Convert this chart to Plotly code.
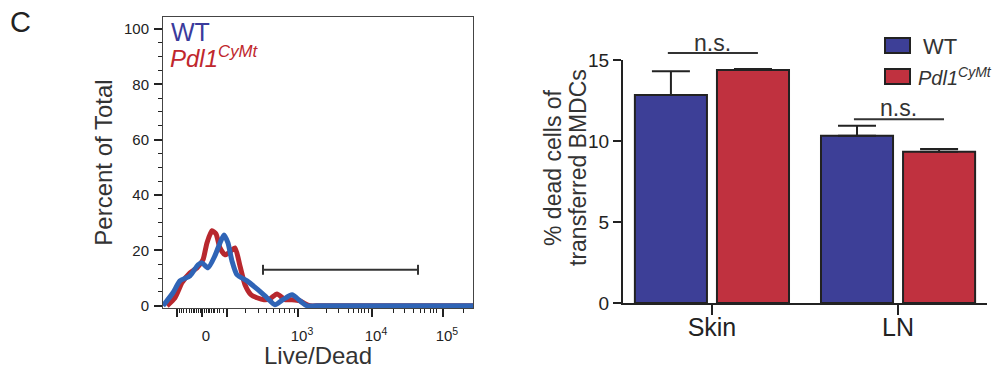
import plotly.graph_objects as go

# ---------------- Data ----------------
# Left panel: histogram overlay (x in display decades of the biexponential scale)
red_x = [1.230, 1.338, 1.432, 1.541, 1.635, 1.716, 1.770, 1.838, 1.892, 1.946, 2.014,
         2.081, 2.149, 2.216, 2.284, 2.365, 2.446, 2.541, 2.622, 2.716, 2.824, 2.919,
         3.027, 3.095, 3.162, 3.300, 5.365]
red_y = [0, 2.9, 8.3, 11.9, 13.7, 16.6, 22.7, 27.1, 26.0, 20.9, 18.4,
         19.5, 20.9, 14.4, 7.6, 4.0, 2.9, 2.2, 2.5, 4.3, 2.2, 2.2,
         1.8, 0.7, 0, 0, 0]
blue_x = [1.176, 1.311, 1.405, 1.541, 1.649, 1.703, 1.784, 1.878, 1.946, 2.000, 2.054,
          2.108, 2.176, 2.311, 2.446, 2.581, 2.689, 2.797, 2.919, 3.027, 3.122, 3.250, 5.365]
blue_y = [0, 4.7, 9.0, 10.8, 14.8, 15.5, 13.7, 18.1, 22.7, 25.6, 22.7,
          16.2, 11.2, 9.0, 6.1, 2.9, 0.4, 2.2, 4.0, 1.8, 0, 0, 0]
gate_x = [2.527, 4.622]
gate_y = 13.0

x_label_vals = [1.703, 3.0, 4.0, 4.959]
x_label_text = ["0", "10<sup>3</sup>", "10<sup>4</sup>", "10<sup>5</sup>"]
x_long_unlabeled = [1.365, 2.041]
x_minor_vals = [1.396, 1.428, 1.459, 1.496, 1.531, 1.564, 1.585, 1.608, 1.631, 1.653,
                1.676, 1.689, 1.716, 1.730, 1.743, 1.766, 1.788, 1.811, 1.834, 1.855,
                1.878, 1.909, 1.946, 1.991,
                2.284, 2.464, 2.577, 2.666, 2.747, 2.824, 2.892, 2.959,
                3.388, 3.554, 3.680, 3.747, 3.815, 3.861, 3.905, 3.950,
                4.288, 4.446, 4.558, 4.649, 4.716, 4.784, 4.828, 4.874, 5.230]

# Right panel: bar chart
categories = ["Skin", "LN"]
wt_vals = [12.84, 10.33]
wt_err = [1.46, 0.61]
mut_vals = [14.38, 9.34]
mut_err = [0.07, 0.17]
y2_title_lines = ["% dead cells of", "transferred BMDCs"]

# ---------------- Styles ----------------
FONT = "Arial, Liberation Sans, Helvetica, sans-serif"
RED_LINE = "#b8282e"
BLUE_LINE = "#2f64b6"
BAR_BLUE = "#3d3f97"
BAR_RED = "#c0313f"
DARK = "#222222"

W, H = 1000, 369
def px(x):
    return x / W
def py(y):
    return 1 - y / H

fig = go.Figure()

# Left histogram curves
fig.add_trace(go.Scatter(x=red_x, y=red_y, mode="lines",
                         line=dict(color=RED_LINE, width=5, shape="spline", smoothing=0.6),
                         xaxis="x", yaxis="y", showlegend=False, hoverinfo="skip"))
fig.add_trace(go.Scatter(x=blue_x, y=blue_y, mode="lines",
                         line=dict(color=BLUE_LINE, width=5, shape="spline", smoothing=0.6),
                         xaxis="x", yaxis="y", showlegend=False, hoverinfo="skip"))
# Gate
fig.add_trace(go.Scatter(x=gate_x, y=[gate_y, gate_y], mode="lines",
                         line=dict(color="#333333", width=2), xaxis="x", yaxis="y",
                         showlegend=False, hoverinfo="skip"))
for gx in gate_x:
    fig.add_trace(go.Scatter(x=[gx, gx], y=[gate_y - 1.8, gate_y + 1.8], mode="lines",
                             line=dict(color="#333333", width=2), xaxis="x", yaxis="y",
                             showlegend=False, hoverinfo="skip"))

# Right bars
fig.add_trace(go.Bar(x=categories, y=wt_vals, name="WT",
                     marker=dict(color=BAR_BLUE, line=dict(color=DARK, width=2)),
                     error_y=dict(type="data", symmetric=False, array=wt_err, arrayminus=[0, 0],
                                  color=DARK, thickness=2, width=19),
                     xaxis="x2", yaxis="y2", showlegend=False))
fig.add_trace(go.Bar(x=categories, y=mut_vals, name="Pdl1CyMt",
                     marker=dict(color=BAR_RED, line=dict(color=DARK, width=2)),
                     error_y=dict(type="data", symmetric=False, array=mut_err, arrayminus=[0, 0],
                                  color=DARK, thickness=2, width=19),
                     xaxis="x2", yaxis="y2", showlegend=False))

LEFT_DOM_X = [px(163), px(473)]
LEFT_DOM_Y = [py(308), py(17)]
X_RANGE = [1.176, 5.365]

fig.update_layout(
    width=W, height=H, autosize=False,
    margin=dict(l=0, r=0, t=0, b=0, autoexpand=False),
    paper_bgcolor="white", plot_bgcolor="white",
    font=dict(family=FONT, color=DARK),
    barmode="group", bargap=0.118, bargroupgap=0.122,
    xaxis=dict(
        domain=LEFT_DOM_X, range=X_RANGE, automargin=False,
        showline=True, linecolor="#444444", linewidth=1, mirror=True,
        showgrid=False, zeroline=False,
        tickmode="array", tickvals=x_label_vals, ticktext=x_label_text,
        ticks="outside", ticklen=8, tickwidth=2, tickcolor=DARK,
        minor=dict(tickmode="array", tickvals=x_minor_vals, ticks="outside", ticklen=4,
                   tickwidth=1, tickcolor=DARK),
        tickfont=dict(size=15, color=DARK), ticklabelstandoff=6, ticklabelshift=4,
        title=dict(text="Live/Dead", font=dict(size=24, color="#333333"), standoff=0),
        fixedrange=True,
    ),
    xaxis3=dict(
        domain=LEFT_DOM_X, range=X_RANGE, automargin=False, overlaying="x", anchor="y",
        side="bottom", showline=False, showgrid=False, zeroline=False,
        tickmode="array", tickvals=x_long_unlabeled, showticklabels=False,
        ticks="outside", ticklen=8, tickwidth=2, tickcolor=DARK, fixedrange=True,
    ),
    yaxis=dict(
        domain=LEFT_DOM_Y, range=[-0.8, 104.3], automargin=False,
        showline=True, linecolor="#444444", linewidth=1, mirror=True,
        showgrid=False, zeroline=False,
        tickmode="array", tickvals=[0, 20, 40, 60, 80, 100],
        ticks="outside", ticklen=8, tickwidth=2, tickcolor=DARK,
        minor=dict(dtick=5, ticks="outside", ticklen=4, tickwidth=1, tickcolor=DARK),
        tickfont=dict(size=15, color=DARK), ticklabelstandoff=2,
        title=dict(text="Percent of Total", font=dict(size=24, color="#333333"), standoff=4),
        fixedrange=True,
    ),
    xaxis2=dict(
        domain=[px(623), px(987)], range=[-0.478, 1.478], automargin=False,
        showline=True, linecolor=DARK, linewidth=2, showgrid=False, zeroline=False,
        ticks="outside", ticklen=10, tickwidth=2, tickcolor=DARK,
        tickfont=dict(size=25, color=DARK), ticklabelstandoff=-9,
        anchor="y2", fixedrange=True,
    ),
    yaxis2=dict(
        domain=[py(303), py(60)], range=[0, 15], automargin=False,
        showline=True, linecolor=DARK, linewidth=2, showgrid=False, zeroline=False,
        tickmode="array", tickvals=[0, 5, 10, 15],
        ticks="outside", ticklen=8, tickwidth=2, tickcolor=DARK,
        tickfont=dict(size=19, color=DARK), ticklabelstandoff=0,
        anchor="x2", fixedrange=True,
    ),
)

# invisible trace to activate the overlay tick axis
fig.add_trace(go.Scatter(x=[X_RANGE[0]], y=[0], mode="markers", marker=dict(opacity=0),
                         xaxis="x3", yaxis="y", showlegend=False, hoverinfo="skip"))

shapes = []
annotations = []

# Panel letter
annotations.append(dict(text="C", x=px(8), y=py(22), xref="paper", yref="paper",
                        xanchor="left", yanchor="middle", showarrow=False,
                        font=dict(size=29, color=DARK)))
# Left legend text
annotations.append(dict(text="WT", x=px(169), y=py(32), xref="paper", yref="paper",
                        xanchor="left", yanchor="middle", showarrow=False,
                        font=dict(size=25, color="#3a3b9c")))
annotations.append(dict(text="<i>Pdl1</i><sup><i>CyMt</i></sup>", x=px(168), y=py(57), xref="paper", yref="paper",
                        xanchor="left", yanchor="middle", showarrow=False,
                        font=dict(size=24, color="#c0272d")))

# Right y-axis title (two rotated lines)
for line_text, cx in zip(y2_title_lines, [553, 578]):
    annotations.append(dict(text=line_text, x=px(cx), y=py(168),
                            xref="paper", yref="paper", xanchor="center", yanchor="middle",
                            textangle=-90, showarrow=False,
                            font=dict(size=23, color="#333333")))

# Right legend
shapes.append(dict(type="rect", xref="paper", yref="paper", x0=px(885), x1=px(910), y0=py(53), y1=py(38),
                   fillcolor=BAR_BLUE, line=dict(color=DARK, width=2)))
shapes.append(dict(type="rect", xref="paper", yref="paper", x0=px(885), x1=px(910), y0=py(84), y1=py(69),
                   fillcolor=BAR_RED, line=dict(color=DARK, width=2)))
annotations.append(dict(text="WT", x=px(921), y=py(46), xref="paper", yref="paper",
                        xanchor="left", yanchor="middle", showarrow=False,
                        font=dict(size=22, color="#333333")))
annotations.append(dict(text="<i>Pdl1</i><sup><i>CyMt</i></sup>", x=px(916), y=py(76), xref="paper", yref="paper",
                        xanchor="left", yanchor="middle", showarrow=False,
                        font=dict(size=20, color="#333333")))

# Significance brackets
for i, (ly, ty) in enumerate([(53, 43), (119.3, 108)]):
    shapes.append(dict(type="line", xref="x2", yref="paper", x0=i - 0.237, x1=i + 0.247,
                       y0=py(ly), y1=py(ly), line=dict(color="#333333", width=2)))
    annotations.append(dict(text="n.s.", x=i + 0.005, y=py(ty), xref="x2", yref="paper",
                            xanchor="center", yanchor="middle", showarrow=False,
                            font=dict(size=23, color="#333333")))

fig.update_layout(shapes=shapes, annotations=annotations)

fig.write_html("out.html", config={"displayModeBar": False},
               post_script="document.body.style.margin='0';document.body.style.padding='0';"
                           "document.body.style.overflow='hidden';")
